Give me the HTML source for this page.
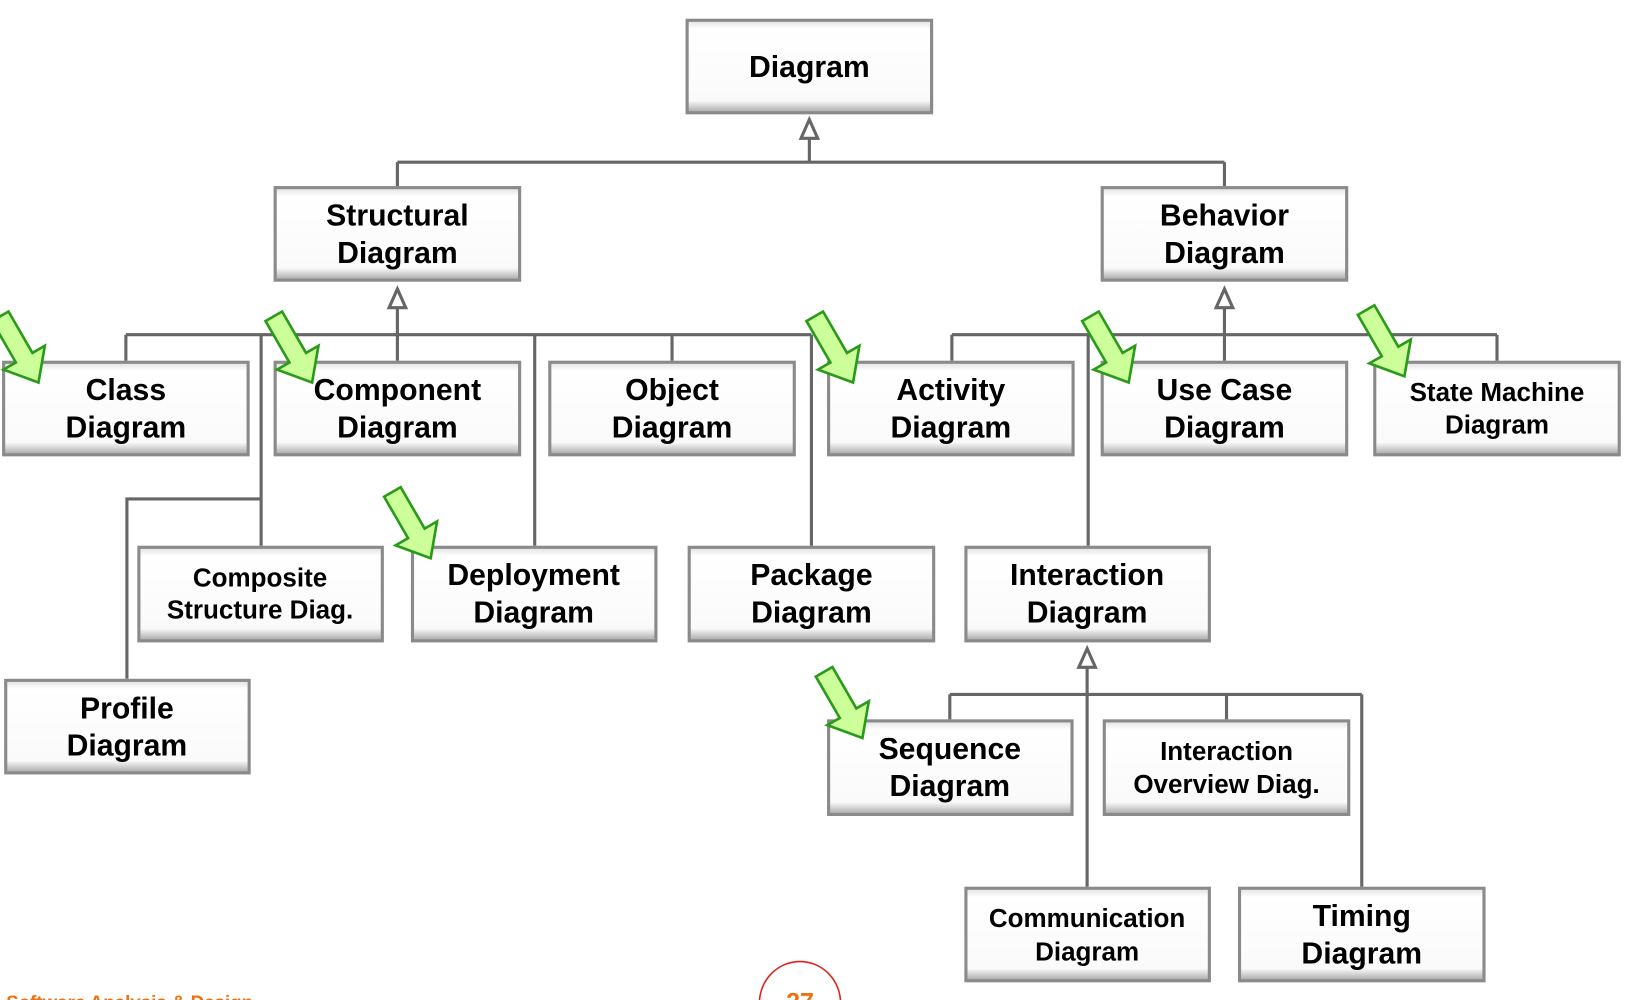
<!DOCTYPE html>
<html><head><meta charset="utf-8"><style>
html,body{margin:0;padding:0;background:#fff;width:1626px;height:1000px;overflow:hidden}
svg{display:block}
text{font-family:"Liberation Sans",sans-serif;font-weight:bold;fill:#000;text-anchor:middle}
</style></head><body>
<svg width="1626" height="1000" viewBox="0 0 1563 962" preserveAspectRatio="none" xmlns="http://www.w3.org/2000/svg">
<defs>
<linearGradient id="gv" x1="0" y1="0" x2="0" y2="1">
<stop offset="0" stop-color="#e6e6e6"/><stop offset="0.08" stop-color="#fff"/><stop offset="0.88" stop-color="#fafafa"/><stop offset="1" stop-color="#b0b0b0"/>
</linearGradient>
<g id="ga"><polygon points="0,0 -20,-24 -8,-24 -8,-64 8,-64 8,-24 20,-24" fill="#ccff99" stroke="#2a9a1a" stroke-width="2.2" stroke-linejoin="miter"/></g>
<g id="tri"><polygon points="0,0 -8,18 8,18" fill="#fff" stroke="#666" stroke-width="3"/></g>
</defs>
<g stroke="#666" stroke-width="3" fill="none">
<path d="M778 133V156M382 156H1177M382 156V179M1177 156V179"/>
<path d="M382 296V322M121 322H780M121 322V347M251 322V525M251 480H122V653M382 322V347M514 322V525M646 322V347M780 322V525"/>
<path d="M1177 296V322M915 322H1439M915 322V347M1046 322V525M1177 322V347M1439 322V347"/>
<path d="M1045 642V668M913 668H1309M913 668V692M1179 668V692M1045 668V853M1309 668V853"/>
</g>
<use href="#tri" x="778" y="115"/>
<use href="#tri" x="382" y="278"/>
<use href="#tri" x="1177" y="278"/>
<use href="#tri" x="1045" y="624"/>
<g id="boxes">
<g transform="translate(659,18)"><rect width="238" height="92" fill="#8a8a8a"/><rect x="3" y="3" width="232" height="86" fill="url(#gv)"/><text x="119" y="56" font-size="29">Diagram</text></g>
<g transform="translate(263,179)"><rect width="238" height="92" fill="#8a8a8a"/><rect x="3" y="3" width="232" height="86" fill="url(#gv)"/><text x="119" y="38" font-size="29">Structural</text><text x="119" y="74" font-size="29">Diagram</text></g>
<g transform="translate(1058,179)"><rect width="238" height="92" fill="#8a8a8a"/><rect x="3" y="3" width="232" height="86" fill="url(#gv)"/><text x="119" y="38" font-size="29">Behavior</text><text x="119" y="74" font-size="29">Diagram</text></g>
<g transform="translate(2,347)"><rect width="238" height="92" fill="#8a8a8a"/><rect x="3" y="3" width="232" height="86" fill="url(#gv)"/><text x="119" y="38" font-size="29">Class</text><text x="119" y="74" font-size="29">Diagram</text></g>
<g transform="translate(263,347)"><rect width="238" height="92" fill="#8a8a8a"/><rect x="3" y="3" width="232" height="86" fill="url(#gv)"/><text x="119" y="38" font-size="29">Component</text><text x="119" y="74" font-size="29">Diagram</text></g>
<g transform="translate(527,347)"><rect width="238" height="92" fill="#8a8a8a"/><rect x="3" y="3" width="232" height="86" fill="url(#gv)"/><text x="119" y="38" font-size="29">Object</text><text x="119" y="74" font-size="29">Diagram</text></g>
<g transform="translate(795,347)"><rect width="238" height="92" fill="#8a8a8a"/><rect x="3" y="3" width="232" height="86" fill="url(#gv)"/><text x="119" y="38" font-size="29">Activity</text><text x="119" y="74" font-size="29">Diagram</text></g>
<g transform="translate(1058,347)"><rect width="238" height="92" fill="#8a8a8a"/><rect x="3" y="3" width="232" height="86" fill="url(#gv)"/><text x="119" y="38" font-size="29">Use Case</text><text x="119" y="74" font-size="29">Diagram</text></g>
<g transform="translate(1320,347)"><rect width="238" height="92" fill="#8a8a8a"/><rect x="3" y="3" width="232" height="86" fill="url(#gv)"/><text x="119" y="39" font-size="25">State Machine</text><text x="119" y="70" font-size="25">Diagram</text></g>
<g transform="translate(132,525)"><rect width="237" height="93" fill="#8a8a8a"/><rect x="3" y="3" width="231" height="87" fill="url(#gv)"/><text x="118" y="39" font-size="25">Composite</text><text x="118" y="70" font-size="25">Structure Diag.</text></g>
<g transform="translate(395,525)"><rect width="237" height="93" fill="#8a8a8a"/><rect x="3" y="3" width="231" height="87" fill="url(#gv)"/><text x="118" y="38" font-size="29">Deployment</text><text x="118" y="74" font-size="29">Diagram</text></g>
<g transform="translate(661,525)"><rect width="238" height="93" fill="#8a8a8a"/><rect x="3" y="3" width="232" height="87" fill="url(#gv)"/><text x="119" y="38" font-size="29">Package</text><text x="119" y="74" font-size="29">Diagram</text></g>
<g transform="translate(927,525)"><rect width="237" height="93" fill="#8a8a8a"/><rect x="3" y="3" width="231" height="87" fill="url(#gv)"/><text x="118" y="38" font-size="29">Interaction</text><text x="118" y="74" font-size="29">Diagram</text></g>
<g transform="translate(4,653)"><rect width="237" height="92" fill="#8a8a8a"/><rect x="3" y="3" width="231" height="86" fill="url(#gv)"/><text x="118" y="38" font-size="29">Profile</text><text x="118" y="74" font-size="29">Diagram</text></g>
<g transform="translate(795,692)"><rect width="237" height="93" fill="#8a8a8a"/><rect x="3" y="3" width="231" height="87" fill="url(#gv)"/><text x="118" y="38" font-size="29">Sequence</text><text x="118" y="74" font-size="29">Diagram</text></g>
<g transform="translate(1060,692)"><rect width="238" height="93" fill="#8a8a8a"/><rect x="3" y="3" width="232" height="87" fill="url(#gv)"/><text x="119" y="39" font-size="25">Interaction</text><text x="119" y="71" font-size="25">Overview Diag.</text></g>
<g transform="translate(927,853)"><rect width="237" height="92" fill="#8a8a8a"/><rect x="3" y="3" width="231" height="86" fill="url(#gv)"/><text x="118" y="39" font-size="25">Communication</text><text x="118" y="71" font-size="25">Diagram</text></g>
<g transform="translate(1190,853)"><rect width="238" height="92" fill="#8a8a8a"/><rect x="3" y="3" width="232" height="86" fill="url(#gv)"/><text x="119" y="38" font-size="29">Timing</text><text x="119" y="74" font-size="29">Diagram</text></g>
</g>
<g>
<use href="#ga" transform="translate(37,368) rotate(-30) scale(1.15)"/>
<use href="#ga" transform="translate(300,368) rotate(-30) scale(1.15)"/>
<use href="#ga" transform="translate(414,537) rotate(-30) scale(1.15)"/>
<use href="#ga" transform="translate(820,368) rotate(-30) scale(1.15)"/>
<use href="#ga" transform="translate(1085,368) rotate(-30) scale(1.15)"/>
<use href="#ga" transform="translate(1350,362) rotate(-30) scale(1.15)"/>
<use href="#ga" transform="translate(829,710) rotate(-30) scale(1.15)"/>
</g>
<ellipse cx="769" cy="965" rx="39" ry="40" fill="#fff" stroke="#e0201a" stroke-width="1.5"/>
<text x="769" y="972" font-size="24" style="fill:#f07010">27</text>
<text x="6" y="970" font-size="18" style="fill:#f07010;text-anchor:start">Software Analysis &amp; Design →</text>
</svg>
</body></html>
